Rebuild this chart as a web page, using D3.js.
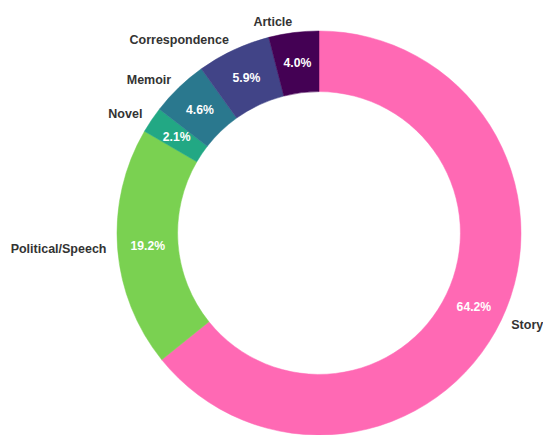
<!DOCTYPE html>
<html><head><meta charset="utf-8">
<script src="https://cdn.jsdelivr.net/npm/d3@7"></script>
<style>body{margin:0;background:#fff;}svg{display:block;}</style>
</head><body>
<svg id="c" width="543" height="435"></svg>
<script>
const categories = ["Story","Political/Speech","Novel","Memoir","Correspondence","Article"];
const values = [64.2,19.2,2.1,4.6,5.9,4.0];
const colors = ["#ff69b4","#7ad151","#22a884","#2a788e","#414487","#440154"];

const svg = d3.select("#c");
const cx = 319, cy = 233, R = 202, r = R*0.7;
const g = svg.append("g").attr("transform",`translate(${cx},${cy})`);
const data = categories.map((c,i)=>({cat:c,val:values[i],col:colors[i]}));
const pie = d3.pie().value(d=>d.val).sort(null).startAngle(0).endAngle(2*Math.PI);
const arcs = pie(data);
const arc = d3.arc().innerRadius(r).outerRadius(R);
g.selectAll("path").data(arcs).join("path").attr("d",arc).attr("fill",d=>d.data.col)
  .attr("stroke",d=>d.data.col).attr("stroke-width",0.5);
const font = "'Liberation Sans', Arial, sans-serif";
arcs.forEach(a=>{
  const m=(a.startAngle+a.endAngle)/2;
  const sx=Math.sin(m), sy=-Math.cos(m);
  const lr=R*1.055, pr=R*0.85;
  g.append("text").attr("x",lr*sx).attr("y",lr*sy).attr("dy","0.35em")
    .attr("text-anchor",sx>0?"start":"end").attr("font-family",font).attr("font-weight","bold")
    .attr("font-size",12.5).attr("fill","#333").text(a.data.cat);
  g.append("text").attr("x",pr*sx).attr("y",pr*sy).attr("dy","0.35em")
    .attr("text-anchor","middle").attr("font-family",font).attr("font-weight","bold")
    .attr("font-size",12.2).attr("fill","#fff").text(a.data.val.toFixed(1)+"%");
});
</script>
</body></html>
